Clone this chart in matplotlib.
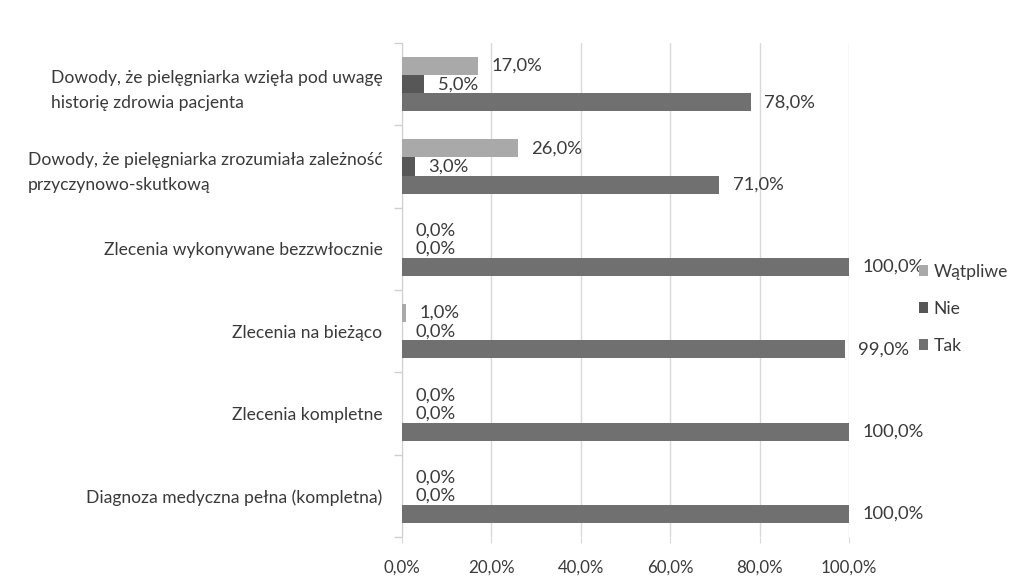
import matplotlib
matplotlib.use("Agg")
import matplotlib.pyplot as plt
import matplotlib.transforms as mtransforms
import numpy as np
from matplotlib.ticker import FuncFormatter, FixedLocator

plt.rcParams['font.family'] = ['Lato', 'DejaVu Sans']

categories = [
    "Dowody, że pielęgniarka wzięła pod uwagę\nhistorię zdrowia pacjenta",
    "Dowody, że pielęgniarka zrozumiała zależność\nprzyczynowo-skutkową",
    "Zlecenia wykonywane bezzwłocznie",
    "Zlecenia na bieżąco",
    "Zlecenia kompletne",
    "Diagnoza medyczna pełna (kompletna)",
]
tak = [78.0, 71.0, 100.0, 99.0, 100.0, 100.0]
nie = [5.0, 3.0, 0.0, 0.0, 0.0, 0.0]
watpliwe = [17.0, 26.0, 0.0, 1.0, 0.0, 0.0]
series_names = ["Wątpliwe", "Nie", "Tak"]
series_values = [watpliwe, nie, tak]
colors = ["#a9a9a9", "#575757", "#707070"]
xticks = [0, 20, 40, 60, 80, 100]

fig = plt.figure(figsize=(10.11, 5.77), dpi=100)
ax = fig.add_axes([402/1011, 1-537/577, (849-402)/1011, (537-43)/577])

n = len(categories)
y = np.arange(n)
h = 0.22
offsets = [-h, 0, h]
text_color = "#3a3a3a"
for name, vals, col, off in zip(series_names, series_values, colors, offsets):
    bars = ax.barh(y + off, vals, height=h, color=col, label=name, zorder=3)
    for b, v in zip(bars, vals):
        ax.annotate(f"{v:.1f}%".replace(".", ","),
                    xy=(b.get_width(), b.get_y() + b.get_height()/2),
                    xytext=(9.5, 0), textcoords="offset points",
                    ha="left", va="center", fontsize=13.2, color=text_color)

ax.set_xlim(0, 100)
ax.set_ylim(n - 0.5, -0.5)
ax.set_xticks(xticks)
ax.xaxis.set_major_formatter(FuncFormatter(lambda v, p: f"{v:.1f}%".replace(".", ",")))
ax.set_yticks(y)
ax.set_yticklabels(categories, fontsize=12.6, color=text_color, multialignment="left",
                   linespacing=1.7)
shift = mtransforms.ScaledTranslation(0, 3/100, fig.dpi_scale_trans)
for lab in ax.get_yticklabels():
    if "\n" in lab.get_text():
        lab.set_transform(lab.get_transform() + shift)
ax.yaxis.set_minor_locator(FixedLocator(np.arange(-0.5, n, 1.0)))
ax.tick_params(axis="y", which="major", length=0, pad=14)
ax.tick_params(axis="y", which="minor", length=6, color="#d0d0d0", width=1)
ax.tick_params(axis="x", length=4, color="#d9d9d9", labelsize=12.2, labelcolor=text_color, pad=12)
ax.grid(axis="x", color="#d9d9d9", linewidth=1, zorder=0)
for s in ["top", "right", "bottom"]:
    ax.spines[s].set_visible(False)
ax.spines["left"].set_color("#d0d0d0")

handles, labels = ax.get_legend_handles_labels()
leg = fig.legend(handles, labels, loc="upper left", bbox_to_anchor=(903/1011, 1-248/577),
                 frameon=False, fontsize=12.6, handlelength=0.55, handleheight=0.55,
                 handletextpad=0.3, labelspacing=1.2, labelcolor=text_color)

fig.savefig("out.png", dpi=100, facecolor="white")
